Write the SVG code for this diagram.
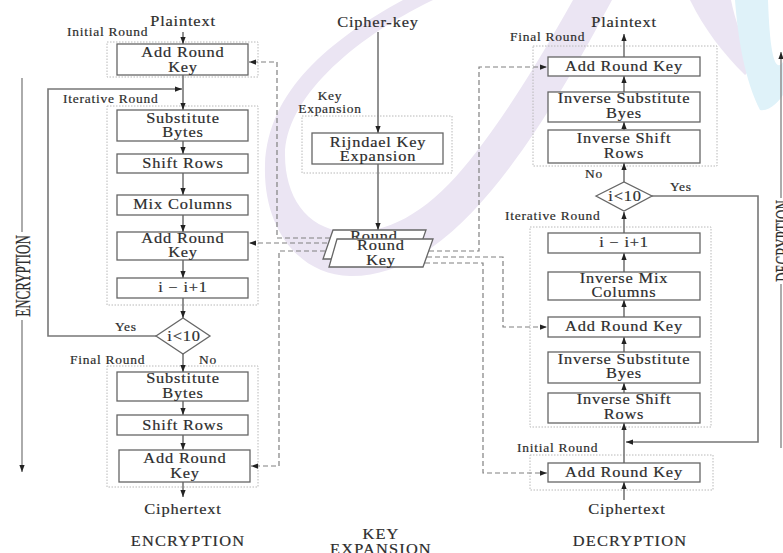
<svg xmlns="http://www.w3.org/2000/svg" width="783" height="553" viewBox="0 0 783 553">
  <defs>
    <marker id="ah" viewBox="0 0 8 6" refX="8" refY="3" markerWidth="7" markerHeight="5.5" markerUnits="userSpaceOnUse" orient="auto">
      <path d="M0,0 L8,3 L0,6 z" fill="#222"/>
    </marker>
    <style>
      text{font-family:"Liberation Serif","Times New Roman",serif;fill:#2c2c2c;stroke:#2c2c2c;stroke-width:0.18px}
      /* box and flow texts: wide Times look, centred */
      .t{font-size:14px;letter-spacing:0.7px;text-anchor:middle;transform-box:fill-box;transform-origin:center;transform:scaleX(1.17)}
      .cap{font-size:14px;letter-spacing:1px;text-anchor:middle;transform-box:fill-box;transform-origin:center;transform:scaleX(1.17)}
      /* small stage labels, left aligned */
      .lb{font-size:11.5px;letter-spacing:0.65px;transform-box:fill-box;transform-origin:left center;transform:scaleX(1.17)}
      .lbc{font-size:11.5px;letter-spacing:0.65px;text-anchor:middle;transform-box:fill-box;transform-origin:center;transform:scaleX(1.17)}
      .side{font-size:13px;text-anchor:middle}
      .box{fill:#fff;stroke:#666;stroke-width:1.3}
      .grp{fill:none;stroke:#b8b8b8;stroke-width:1;stroke-dasharray:1.5 1.5}
      .ln{fill:none;stroke:#777;stroke-width:1.6}
      .ax{fill:none;stroke:#888;stroke-width:1.4}
      .dsh{fill:none;stroke:#808080;stroke-width:1.2;stroke-dasharray:5 3}
    </style>
  </defs>

  <rect x="0" y="0" width="783" height="553" fill="#fff"/>

  <!-- background logo swooshes -->
  <g id="logo">
    <path fill="#ebe5f3" d="M403 0 C330 40 268 90 265 165 C263 230 300 275 350 276 C410 277 460 230 500 180 C540 130 580 60 612 0 L573 0 C545 50 510 110 470 160 C430 210 390 235 345 232 C305 228 285 195 285 155 C285 100 350 40 433 0 Z"/>
    <path fill="#ebe5f3" d="M690 0 C705 30 722 52 745 75 L758 62 C742 42 735 20 731 0 Z"/>
    <path fill="#dff2f9" d="M735 0 C738 40 745 80 760 110 C770 112 780 100 783 95 L783 62 C776 72 770 60 768 0 Z"/>
  </g>

  <!-- stage frames -->
  <g id="frames">
    <rect class="grp" x="107" y="42" width="151" height="35"/>
    <rect class="grp" x="107" y="106" width="151" height="199"/>
    <rect class="grp" x="107" y="366" width="151" height="121"/>
    <rect class="grp" x="302" y="116" width="150" height="57"/>
    <rect class="grp" x="533" y="46" width="184" height="120"/>
    <rect class="grp" x="530" y="227" width="181" height="200"/>
    <rect class="grp" x="530" y="455" width="183" height="35"/>
  </g>

  <!-- connectors -->
  <g id="connectors">
    <!-- encryption flow -->
    <path class="ln" marker-end="url(#ah)" d="M183 32 V44"/>
    <path class="ln" marker-end="url(#ah)" d="M183 75 V110"/>
    <path class="ln" marker-end="url(#ah)" d="M183 141 V154"/>
    <path class="ln" marker-end="url(#ah)" d="M183 173 V195"/>
    <path class="ln" marker-end="url(#ah)" d="M183 215 V232"/>
    <path class="ln" marker-end="url(#ah)" d="M183 260 V278"/>
    <path class="ln" marker-end="url(#ah)" d="M183 298 V318"/>
    <path class="ln" marker-end="url(#ah)" d="M183 354 V372"/>
    <path class="ln" marker-end="url(#ah)" d="M183 401 V415"/>
    <path class="ln" marker-end="url(#ah)" d="M183 435 V450"/>
    <path class="ln" marker-end="url(#ah)" d="M183 482 V497"/>
    <path class="ln" marker-end="url(#ah)" d="M156 336 H48 V89 H182"/>
    <!-- key expansion flow -->
    <path class="ln" marker-end="url(#ah)" d="M378 32 V133"/>
    <path class="ln" marker-end="url(#ah)" d="M378 164 V230"/>
    <!-- decryption flow -->
    <path class="ln" marker-end="url(#ah)" d="M624 500 V482"/>
    <path class="ln" marker-end="url(#ah)" d="M624 463 V423"/>
    <path class="ln" marker-end="url(#ah)" d="M624 393 V383"/>
    <path class="ln" marker-end="url(#ah)" d="M624 352 V337"/>
    <path class="ln" marker-end="url(#ah)" d="M624 317 V300"/>
    <path class="ln" marker-end="url(#ah)" d="M624 272 V253"/>
    <path class="ln" marker-end="url(#ah)" d="M624 233 V212"/>
    <path class="ln" marker-end="url(#ah)" d="M624 182 V163"/>
    <path class="ln" marker-end="url(#ah)" d="M624 130 V122"/>
    <path class="ln" marker-end="url(#ah)" d="M624 92 V76"/>
    <path class="ln" marker-end="url(#ah)" d="M624 57 V34"/>
    <path class="ln" marker-end="url(#ah)" d="M652 196 H758 V442 H626"/>
    <!-- round key distribution -->
    <path class="dsh" marker-end="url(#ah)" d="M330 238 H277 V62 H249"/>
    <path class="dsh" marker-end="url(#ah)" d="M327 243 H249"/>
    <path class="dsh" marker-end="url(#ah)" d="M325 251 H279 V466 H251"/>
    <path class="dsh" marker-end="url(#ah)" d="M429 251 H479 V67 H547"/>
    <path class="dsh" marker-end="url(#ah)" d="M427 257 H503 V327 H547"/>
    <path class="dsh" marker-end="url(#ah)" d="M425 263 H483 V473 H547"/>
    <!-- direction axes -->
    <path class="ax" d="M22 78 V232"/>
    <path class="ax" marker-end="url(#ah)" d="M22 320 V472"/>
    <path class="ax" marker-end="url(#ah)" d="M781 198 V52"/>
    <path class="ax" d="M781 284 V448"/>
  </g>

  <!-- encryption -->
  <g id="enc-plaintext"><text class="t" x="183" y="26">Plaintext</text></g>
  <g id="enc-initial-ark">
    <rect class="box" x="117" y="44" width="131" height="31"/>
    <text class="t" x="183" y="57">Add Round</text>
    <text class="t" x="183" y="72">Key</text>
  </g>
  <g id="enc-subbytes">
    <rect class="box" x="117" y="110" width="131" height="31"/>
    <text class="t" x="183" y="123">Substitute</text>
    <text class="t" x="183" y="137">Bytes</text>
  </g>
  <g id="enc-shiftrows">
    <rect class="box" x="117" y="154" width="131" height="19"/>
    <text class="t" x="183" y="168">Shift Rows</text>
  </g>
  <g id="enc-mixcolumns">
    <rect class="box" x="117" y="195" width="131" height="20"/>
    <text class="t" x="183" y="209">Mix Columns</text>
  </g>
  <g id="enc-round-ark">
    <rect class="box" x="117" y="232" width="131" height="28"/>
    <text class="t" x="183" y="243">Add Round</text>
    <text class="t" x="183" y="257">Key</text>
  </g>
  <g id="enc-increment">
    <rect class="box" x="117" y="278" width="131" height="20"/>
    <text class="t" x="183" y="292">i − i+1</text>
  </g>
  <g id="enc-test">
    <polygon class="box" points="156,336 183,318 210,336 183,354"/>
    <text class="t" x="184" y="341">i&lt;10</text>
  </g>
  <g id="enc-final-subbytes">
    <rect class="box" x="117" y="372" width="131" height="29"/>
    <text class="t" x="183" y="383">Substitute</text>
    <text class="t" x="183" y="398">Bytes</text>
  </g>
  <g id="enc-final-shiftrows">
    <rect class="box" x="117" y="415" width="131" height="20"/>
    <text class="t" x="183" y="430">Shift Rows</text>
  </g>
  <g id="enc-final-ark">
    <rect class="box" x="119" y="450" width="131" height="32"/>
    <text class="t" x="185" y="463">Add Round</text>
    <text class="t" x="185" y="478">Key</text>
  </g>
  <g id="enc-ciphertext"><text class="t" x="183" y="514">Ciphertext</text></g>

  <!-- key expansion -->
  <g id="cipher-key"><text class="t" x="378" y="27">Cipher-key</text></g>
  <g id="rijndael">
    <rect class="box" x="312" y="133" width="131" height="31"/>
    <text class="t" x="378" y="147">Rijndael Key</text>
    <text class="t" x="378" y="161">Expansion</text>
  </g>
  <g id="round-key">
    <polygon class="box" stroke-width="1" points="333,230 426,230 416,259 323,259"/>
    <text class="t" x="374" y="241">Round</text>
    <polygon class="box" stroke-width="1" points="337,239 433,239 423,267 329,267"/>
    <text class="t" x="381" y="250">Round</text>
    <text class="t" x="381" y="265">Key</text>
  </g>

  <!-- decryption -->
  <g id="dec-plaintext"><text class="t" x="624" y="27">Plaintext</text></g>
  <g id="dec-final-ark">
    <rect class="box" x="548" y="57" width="152" height="19"/>
    <text class="t" x="624" y="71">Add Round Key</text>
  </g>
  <g id="dec-final-isub">
    <rect class="box" x="548" y="92" width="152" height="30"/>
    <text class="t" x="624" y="103">Inverse Substitute</text>
    <text class="t" x="624" y="118">Byes</text>
  </g>
  <g id="dec-final-ishift">
    <rect class="box" x="548" y="130" width="152" height="33"/>
    <text class="t" x="624" y="143">Inverse Shift</text>
    <text class="t" x="624" y="158">Rows</text>
  </g>
  <g id="dec-test">
    <polygon class="box" points="596,196 624,182 652,196 624,211"/>
    <text class="t" x="625" y="201">i&lt;10</text>
  </g>
  <g id="dec-increment">
    <rect class="box" x="548" y="233" width="152" height="20"/>
    <text class="t" x="624" y="247">i − i+1</text>
  </g>
  <g id="dec-imix">
    <rect class="box" x="548" y="272" width="152" height="28"/>
    <text class="t" x="624" y="283">Inverse Mix</text>
    <text class="t" x="624" y="297">Columns</text>
  </g>
  <g id="dec-round-ark">
    <rect class="box" x="548" y="317" width="152" height="20"/>
    <text class="t" x="624" y="331">Add Round Key</text>
  </g>
  <g id="dec-isub">
    <rect class="box" x="548" y="352" width="152" height="31"/>
    <text class="t" x="624" y="364">Inverse Substitute</text>
    <text class="t" x="624" y="378">Byes</text>
  </g>
  <g id="dec-ishift">
    <rect class="box" x="548" y="393" width="152" height="30"/>
    <text class="t" x="624" y="404">Inverse Shift</text>
    <text class="t" x="624" y="419">Rows</text>
  </g>
  <g id="dec-initial-ark">
    <rect class="box" x="548" y="463" width="152" height="19"/>
    <text class="t" x="624" y="477">Add Round Key</text>
  </g>
  <g id="dec-ciphertext"><text class="t" x="627" y="514">Ciphertext</text></g>

  <!-- stage labels -->
  <g id="labels">
    <text class="lb" x="67" y="36">Initial Round</text>
    <text class="lb" x="63" y="103">Iterative Round</text>
    <text class="lb" x="115" y="331">Yes</text>
    <text class="lb" x="70" y="364">Final Round</text>
    <text class="lb" x="199" y="364">No</text>
    <text class="lbc" x="330" y="100">Key</text>
    <text class="lbc" x="330" y="113">Expansion</text>
    <text class="lb" x="510" y="41">Final Round</text>
    <text class="lb" x="585" y="178">No</text>
    <text class="lb" x="670" y="191">Yes</text>
    <text class="lb" x="505" y="220">Iterative Round</text>
    <text class="lb" x="517" y="452">Initial Round</text>
  </g>

  <!-- section titles -->
  <g id="titles">
    <text class="cap" x="188" y="546">ENCRYPTION</text>
    <text class="cap" x="381" y="539">KEY</text>
    <text class="cap" x="381" y="554">EXPANSION</text>
    <text class="cap" x="630" y="546">DECRYPTION</text>
    <text class="side" transform="translate(30,276) rotate(-90) scale(1,1.6)">ENCRYPTION</text>
    <text class="side" transform="translate(790,241) rotate(-90) scale(1,1.6)">DECRYPTION</text>
  </g>
</svg>
